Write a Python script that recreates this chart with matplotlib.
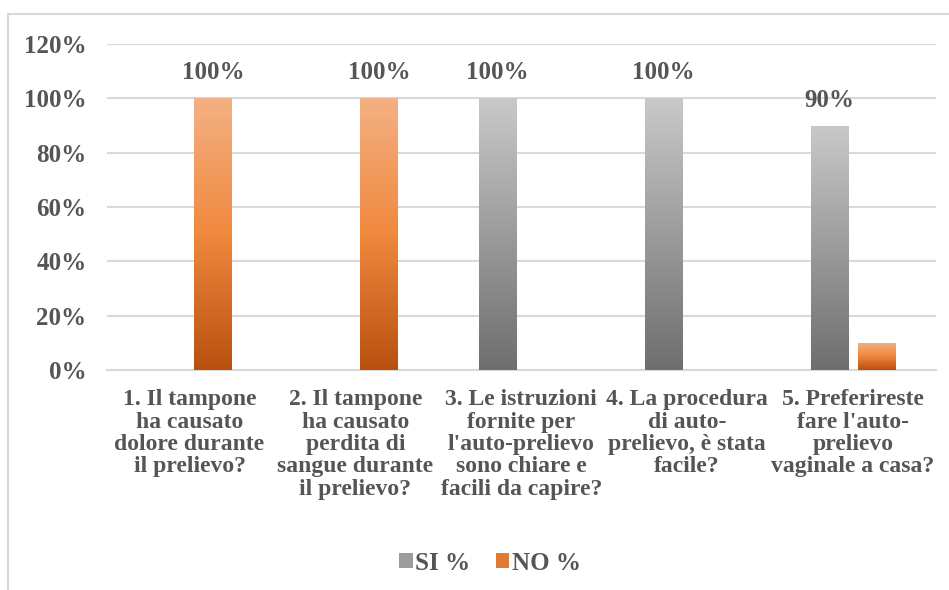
import numpy as np
import matplotlib
matplotlib.use("Agg")
import matplotlib.pyplot as plt
from matplotlib.colors import LinearSegmentedColormap
from matplotlib.patches import Rectangle
from matplotlib.lines import Line2D

categories = [
    "1. Il tampone\nha causato\ndolore durante\nil prelievo?",
    "2. Il tampone\nha causato\nperdita di\nsangue durante\nil prelievo?",
    "3. Le istruzioni\nfornite per\nl'auto-prelievo\nsono chiare e\nfacili da capire?",
    "4. La procedura\ndi auto-\nprelievo, è stata\nfacile?",
    "5. Preferireste\nfare l'auto-\nprelievo\nvaginale a casa?",
]
si_values = [0, 0, 100, 100, 90]
no_values = [100, 100, 0, 0, 10]
si_labeled = [False, False, True, True, True]
no_labeled = [True, True, False, False, False]
y_ticks = [0, 20, 40, 60, 80, 100, 120]
series_names = ["SI %", "NO %"]

plt.rcParams["font.family"] = ["Liberation Serif", "DejaVu Serif"]
text_color = "#555555"
grid_color = "#D9D9D9"
fs = 18

gray_cmap = LinearSegmentedColormap.from_list("gray_grad", ["#6E6E6E", "#C9C9C9"])
orange_cmap = LinearSegmentedColormap.from_list("orange_grad", ["#B9500F", "#F0883E", "#F4B183"])

fig = plt.figure(figsize=(9.49, 5.9), dpi=100)
ax = fig.add_axes([0.1123, 0.3729, 0.9863 - 0.1123, 0.9254 - 0.3729])

# chart frame (left and top edges visible)
fig.add_artist(Line2D([8 / 949, 8 / 949], [0, 1 - 14 / 590], transform=fig.transFigure,
                      color=grid_color, lw=1.5))
fig.add_artist(Line2D([8 / 949, 1], [1 - 14 / 590, 1 - 14 / 590], transform=fig.transFigure,
                      color=grid_color, lw=1.5))

x = np.arange(len(categories))
bar_w = 0.229
offset = 0.142

grad = np.linspace(0, 1, 256).reshape(-1, 1)


def gradient_bars(xpos, values, cmap):
    bars = ax.bar(xpos, values, bar_w, color="none", edgecolor="none", zorder=3)
    for b in bars:
        h = b.get_height()
        if h <= 0:
            continue
        x0 = b.get_x()
        im = ax.imshow(grad, cmap=cmap, aspect="auto", origin="lower",
                       extent=(x0, x0 + b.get_width(), 0, h), zorder=3,
                       interpolation="bilinear")
        im.set_clip_path(b)
    return bars


si_bars = gradient_bars(x - offset, si_values, gray_cmap)
no_bars = gradient_bars(x + offset, no_values, orange_cmap)

for bars, vals, flags in ((si_bars, si_values, si_labeled), (no_bars, no_values, no_labeled)):
    for b, v, f in zip(bars, vals, flags):
        if f:
            ax.annotate(f"{v}%", (b.get_x() + b.get_width() / 2, v),
                        xytext=(0, 10), textcoords="offset points",
                        ha="center", va="bottom", fontsize=fs, fontweight="bold",
                        color=text_color)

ax.set_xlim(-0.5, len(categories) - 0.5)
ax.set_ylim(0, 120)
ax.set_yticks(y_ticks)
ax.set_yticklabels([f"{t}%" for t in y_ticks])
ax.set_xticks(x)
ax.set_xticklabels(categories, linespacing=1.08)
ax.tick_params(axis="both", length=0, labelsize=fs, labelcolor=text_color)
ax.tick_params(axis="x", labelsize=17, pad=14)
ax.tick_params(axis="y", pad=14.5)
for lbl in ax.get_xticklabels() + ax.get_yticklabels():
    lbl.set_fontweight("bold")

ax.grid(axis="y", color=grid_color, lw=1.5, zorder=0)
ax.set_axisbelow(True)
for s in ["top", "right", "left"]:
    ax.spines[s].set_visible(False)
ax.spines["bottom"].set_color(grid_color)
ax.spines["bottom"].set_linewidth(1.5)

handles = [Rectangle((0, 0), 1, 1, facecolor="#9C9C9C"),
           Rectangle((0, 0), 1, 1, facecolor="#E07A34")]
fig.legend(handles, series_names, loc="center", bbox_to_anchor=(490 / 949, 1 - 563 / 590),
           ncol=2, frameon=False, handlelength=0.55, handleheight=0.55, handletextpad=0.1,
           columnspacing=1.0, prop={"size": fs, "weight": "bold"}, labelcolor=text_color)

fig.savefig("out.png", dpi=100)
